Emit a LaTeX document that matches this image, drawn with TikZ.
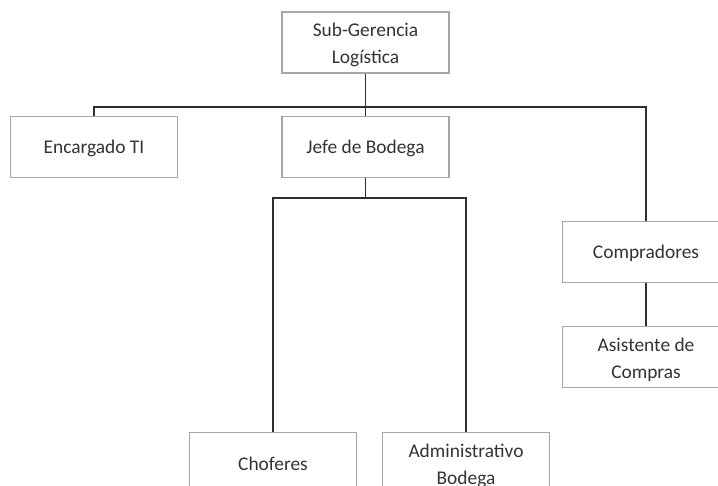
\documentclass[tikz,border=0pt]{standalone}
\usepackage{fontspec}
\setmainfont{Carlito}
\begin{document}
\begin{tikzpicture}[x=1pt,y=-1pt,
  unit/.style={draw=boxgray, line width=1.1pt, fill=white, minimum width=167pt,
    minimum height=61pt, inner sep=0pt, align=center, text=txtgray,
    font=\fontsize{19.4}{27}\selectfont, text height=14pt, text depth=0pt},
  twoline/.style={text height=43pt, text depth=0pt},
  link/.style={draw=linegray, line width=1.7pt}]
\definecolor{boxgray}{HTML}{A6A6A6}
\definecolor{linegray}{HTML}{2E2E2E}
\definecolor{txtgray}{HTML}{333333}
\useasboundingbox (0,0) rectangle (718,486);
\clip (0,0) rectangle (718,486);
\fill[white] (0,0) rectangle (718,486);

% reporting buses
\coordinate (bus1) at (365.5,107);
\coordinate (bus2) at (365.5,198);

% positions
\node[unit,twoline] (sub)   at (365.5,42.5) {Sub-Gerencia\\Logística};
\node[unit]         (enc)   at (94,147)     {Encargado TI};
\node[unit]         (jefe)  at (365.5,147)  {Jefe de Bodega};
\node[unit]         (comp)  at (646,252)    {Compradores};
\node[unit,twoline] (asis)  at (646,357)    {Asistente de\\Compras};
\node[unit]         (chof)  at (273,463)    {Choferes};
\node[unit,twoline] (admin) at (466,463)    {Administrativo\\Bodega};

% connectors
\draw[link] (sub.south) -- (jefe.north);
\draw[link] (enc.north) |- (bus1) -| (comp.north);
\draw[link] (jefe.south) -- (bus2);
\draw[link] (chof.north) |- (bus2) -| (admin.north);
\draw[link] (comp.south) -- (asis.north);
\end{tikzpicture}
\end{document}
